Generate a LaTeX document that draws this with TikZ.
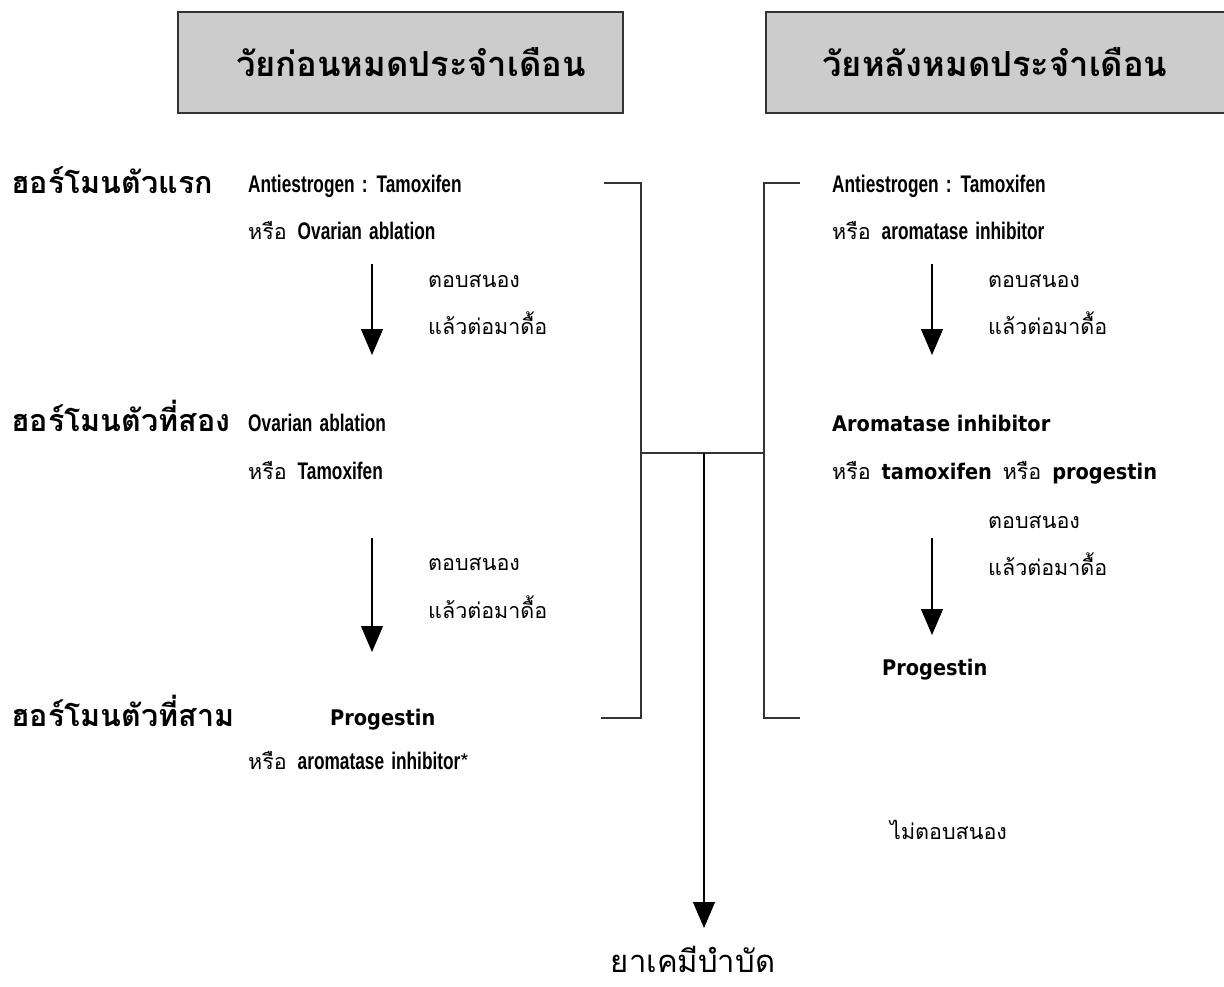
\documentclass[tikz,border=0pt]{standalone}
\usepackage{fontspec}
\usetikzlibrary{arrows.meta}
\newfontfamily\thai[Script=Thai, WordSpace=1.5]{Loma}
\newfontfamily\cond[FakeStretch=0.72, WordSpace=1.5]{Liberation Sans}
\newfontfamily\wide[FakeStretch=0.9]{DejaVu Sans}
\definecolor{boxgray}{HTML}{CCCCCC}
\definecolor{linegray}{HTML}{333333}
\tikzset{
  x=1pt, y=-1pt,
  title/.style={font=\thai\bfseries\fontsize{34.5}{38}\selectfont, anchor=base},
  rowlab/.style={font=\thai\bfseries\fontsize{30.5}{34}\selectfont, anchor=base west, inner sep=0},
  txt/.style={font=\thai\fontsize{21.5}{25}\selectfont, anchor=base west, inner sep=0},
  hbox/.style={draw=linegray, fill=boxgray, line width=1.2pt},
  conn/.style={draw=linegray, line width=1.2pt},
  arr/.style={draw=black, line width=1.2pt, -{Triangle[width=22pt,length=26pt]}},
}
\newcommand{\lb}[1]{{\cond\bfseries\fontsize{24}{28}\selectfont #1}}
\newcommand{\wb}[1]{{\wide\bfseries\fontsize{21.5}{25}\selectfont #1}}
\begin{document}
\begin{tikzpicture}
\useasboundingbox (0,0) rectangle (1224,986);
% header boxes
\draw[hbox] (178,12) rectangle (623,113);
\draw[hbox] (766,12) rectangle (1230,113);
\node[title] (tl) at (411,76) {วัยก่อนหมดประจำเดือน};
\node[title] (tr) at (995,76) {วัยหลังหมดประจำเดือน};
% row labels
\node[rowlab] (r1) at (11,193) {ฮอร์โมนตัวแรก};
\node[rowlab] (r2) at (11,431) {ฮอร์โมนตัวที่สอง};
\node[rowlab] (r3) at (11,726) {ฮอร์โมนตัวที่สาม};
% left column
\node[txt] (l1a) at (248,192) {\lb{Antiestrogen : Tamoxifen}};
\node[txt] (l1b) at (248,239) {หรือ \lb{Ovarian ablation}};
\node[txt] (l1c) at (428,287) {ตอบสนอง};
\node[txt] (l1d) at (428,334) {แล้วต่อมาดื้อ};
\coordinate (la1s) at (372,264);
\coordinate (la1e) at (372,355);
\draw[arr] (la1s) -- (la1e);
\node[txt] (l2a) at (248,431) {\lb{Ovarian ablation}};
\node[txt] (l2b) at (248,479) {หรือ \lb{Tamoxifen}};
\node[txt] (l2c) at (428,570) {ตอบสนอง};
\node[txt] (l2d) at (428,618) {แล้วต่อมาดื้อ};
\coordinate (la2s) at (372,538);
\coordinate (la2e) at (372,652);
\draw[arr] (la2s) -- (la2e);
\node[txt] (l3a) at (330,725) {\wb{Progestin}};
\node[txt] (l3b) at (248,769) {หรือ \lb{aromatase inhibitor}*};
% right column
\node[txt] (p1a) at (832,192) {\lb{Antiestrogen : Tamoxifen}};
\node[txt] (p1b) at (832,239) {หรือ \lb{aromatase inhibitor}};
\node[txt] (p1c) at (988,287) {ตอบสนอง};
\node[txt] (p1d) at (988,334) {แล้วต่อมาดื้อ};
\coordinate (ra1s) at (932,264);
\coordinate (ra1e) at (932,355);
\draw[arr] (ra1s) -- (ra1e);
\node[txt] (p2a) at (832,431) {\wb{Aromatase inhibitor}};
\node[txt] (p2b) at (832,479) {หรือ \wb{tamoxifen} หรือ \wb{progestin}};
\node[txt] (p2c) at (988,528) {ตอบสนอง};
\node[txt] (p2d) at (988,575) {แล้วต่อมาดื้อ};
\coordinate (ra2s) at (932,538);
\coordinate (ra2e) at (932,635);
\draw[arr] (ra2s) -- (ra2e);
\node[txt] (p3a) at (882,675) {\wb{Progestin}};
\node[txt] (nr) at (890,839) {ไม่ตอบสนอง};
% brackets
\coordinate (lt) at (604,183);
\coordinate (ltc) at (641,183);
\coordinate (lbt) at (601,718);
\coordinate (lbc) at (641,718);
\coordinate (lm) at (641,453);
\coordinate (rt) at (800,183);
\coordinate (rtc) at (764,183);
\coordinate (rbt) at (800,718);
\coordinate (rbc) at (764,718);
\coordinate (rm) at (764,453);
\coordinate (stem) at (704,453);
\coordinate (stemend) at (704,928);
\draw[conn] (lt) -- (ltc) -- (lbc) -- (lbt);
\draw[conn] (rt) -- (rtc) -- (rbc) -- (rbt);
\draw[conn] (lm) -- (rm);
\node[title, font=\thai\fontsize{31}{34}\selectfont] (chemo) at (693,972) {ยาเคมีบำบัด};
\draw[arr] (stem) -- (stemend);
\end{tikzpicture}
\end{document}
